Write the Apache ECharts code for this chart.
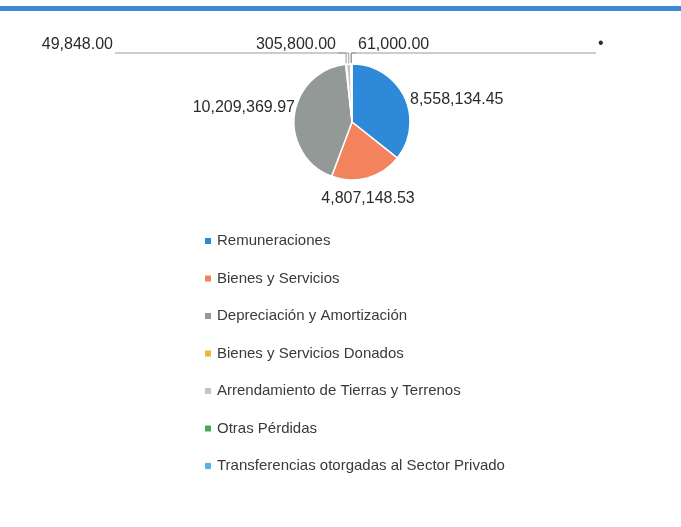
<!DOCTYPE html>
<html>
<head>
<meta charset="utf-8">
<script src="https://cdn.jsdelivr.net/npm/echarts@6/dist/echarts.min.js"></script>
<style>
  html, body { margin: 0; padding: 0; background: #fff; }
  #pieChart { width: 681px; height: 527px; }
</style>
</head>
<body>
<div id="pieChart"></div>
<script>
const categories = [
    'Remuneraciones',
    'Bienes y Servicios',
    'Depreciación y Amortización',
    'Bienes y Servicios Donados',
    'Arrendamiento de Tierras y Terrenos',
    'Otras Pérdidas',
    'Transferencias otorgadas al Sector Privado'
];
const values = [8558134.45, 4807148.53, 10209369.97, 49848.00, 305800.00, 0, 61000.00];
const colors = ['#2e8ad8', '#f2835c', '#939996', '#efb440', '#c4c4c4', '#4aa85c', '#4fb6e8'];

// label spots; the tiny slices sit on the top row with long leaders
const labelSpots = {
    0: { x: 410, y: 100, align: 'left' },
    1: { x: 368, y: 199, align: 'center' },
    2: { x: 295, y: 108, align: 'right' },
    3: { x: 113, y: 45, align: 'right', leader: true },
    4: { x: 336, y: 45, align: 'right', leader: true },
    5: { x: 598, y: 44, align: 'left', leader: true },
    6: { x: 358, y: 45, align: 'left', leader: true }
};

function fmt(v) {
    return v.toLocaleString('en-US', { minimumFractionDigits: 2, maximumFractionDigits: 2 });
}

window.addEventListener('load', function () {
    renderPieChart();
});

function renderPieChart() {
    const chartDom = document.getElementById('pieChart');
    const myChart = echarts.init(chartDom);

    const option = {
        color: colors,
        graphic: [{
            type: 'rect',
            shape: { x: 0, y: 6, width: 681, height: 5 },
            style: { fill: '#3d8bd3' }
        }],
        legend: {
            orient: 'vertical',
            left: 198,
            top: 228,
            icon: 'rect',
            itemWidth: 8,
            itemHeight: 8,
            itemGap: 21.5,
            data: categories,
            textStyle: { color: '#3a3a3a', fontSize: 15, lineHeight: 16, fontFamily: 'Liberation Sans' }
        },
        series: [{
            name: 'Gastos',
            type: 'pie',
            center: [352, 122],
            radius: 58,
            startAngle: 90,
            clockwise: true,
            avoidLabelOverlap: false,
            itemStyle: { borderColor: '#fff', borderWidth: 1.5 },
            label: {
                color: '#2b2b2b',
                fontSize: 16,
                fontFamily: 'Liberation Sans',
                formatter: p => p.dataIndex === 5 ? '•' : fmt(p.value)
            },
            labelLine: { length: 6, length2: 6, lineStyle: { color: '#9a9a9a', width: 1 } },
            labelLayout: function (params) {
                const s = labelSpots[params.dataIndex];
                if (!s) return {};
                const out = { x: s.x, y: s.y, align: s.align, verticalAlign: 'middle' };
                if (s.leader) {
                    const start = params.labelLinePoints ? params.labelLinePoints[0] : [352, 65];
                    const endX = s.align === 'right' ? s.x + 2 : s.x - 2;
                    out.labelLinePoints = [start, [start[0], 53], [endX, 53]];
                }
                return out;
            },
            data: categories.map((name, i) => ({
                name: name,
                value: values[i],
                labelLine: { show: !!labelSpots[i].leader }
            }))
        }]
    };

    myChart.setOption(option);
}
</script>
</body>
</html>
